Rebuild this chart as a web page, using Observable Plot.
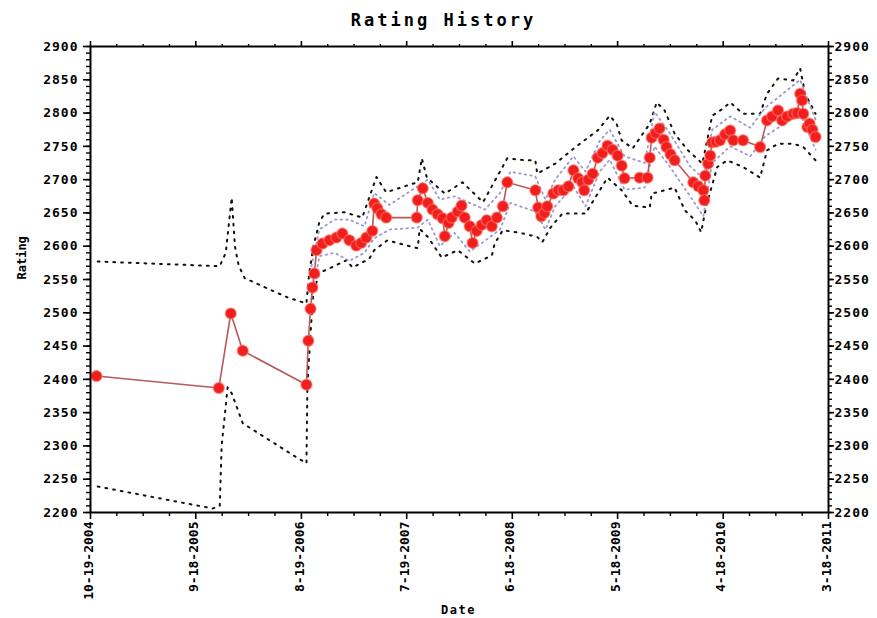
<!DOCTYPE html>
<html>
<head>
<meta charset="utf-8">
<script src="https://cdn.jsdelivr.net/npm/d3@7"></script>
<script src="https://cdn.jsdelivr.net/npm/@observablehq/plot@0.6"></script>
<style>
  html, body { margin: 0; padding: 0; background: #fff; }
</style>
</head>
<body>
<div id="chart"></div>
<script>
// ---------- DATA ----------
const tickLabels = ["10-19-2004", "9-18-2005", "8-19-2006", "7-19-2007", "6-18-2008", "5-18-2009", "4-18-2010", "3-18-2011"];
const yTickValues = [2200, 2250, 2300, 2350, 2400, 2450, 2500, 2550, 2600, 2650, 2700, 2750, 2800, 2850, 2900];

const ratingDates = [
  "2004-11-07","2005-11-30","2006-01-07","2006-02-14","2006-09-04","2006-09-10","2006-09-17","2006-09-23",
  "2006-09-29","2006-10-06","2006-10-25","2006-11-16","2006-12-08","2006-12-27","2007-01-18","2007-02-09",
  "2007-02-25","2007-03-13","2007-04-01","2007-04-07","2007-04-17","2007-04-30","2007-05-15","2007-08-20",
  "2007-08-23","2007-09-08","2007-09-24","2007-10-09","2007-10-25","2007-11-10","2007-11-17","2007-11-29",
  "2007-12-09","2007-12-28","2008-01-09","2008-01-19","2008-02-04","2008-02-13","2008-02-26","2008-03-13",
  "2008-03-29","2008-04-14","2008-04-30","2008-05-19","2008-06-02","2008-08-30","2008-09-08","2008-09-18",
  "2008-09-28","2008-10-07","2008-10-26","2008-11-11","2008-11-27","2008-12-13","2008-12-29","2009-01-13",
  "2009-01-26","2009-02-01","2009-02-14","2009-02-28","2009-03-16","2009-03-31","2009-04-16","2009-05-02",
  "2009-05-18","2009-05-31","2009-06-09","2009-07-27","2009-08-21","2009-08-28","2009-09-03","2009-09-16",
  "2009-09-28","2009-10-11","2009-10-20","2009-11-02","2009-11-15","2010-01-13","2010-01-29","2010-02-14",
  "2010-02-17","2010-02-20","2010-03-01","2010-03-08","2010-03-14","2010-03-27","2010-04-08","2010-04-24",
  "2010-05-10","2010-05-20","2010-06-20","2010-08-13","2010-09-04","2010-09-20","2010-10-09","2010-10-22",
  "2010-11-07","2010-11-26","2010-12-09","2010-12-18","2010-12-24","2010-12-28","2011-01-10","2011-01-17",
  "2011-01-26","2011-02-05"
];
const ratings = [
  2405,2387,2499,2443,2392,2458,2506,2538,
  2559,2594,2604,2609,2613,2619,2609,2601,
  2605,2613,2623,2664,2657,2648,2643,2643,
  2669,2687,2665,2655,2648,2642,2615,2635,
  2643,2652,2661,2643,2630,2605,2623,2632,
  2639,2630,2643,2660,2696,2684,2658,2645,
  2650,2660,2679,2684,2684,2690,2714,2702,
  2696,2684,2700,2709,2733,2740,2751,2745,
  2736,2721,2702,2703,2703,2733,2763,2770,
  2777,2760,2749,2738,2729,2696,2690,2684,
  2669,2706,2724,2736,2756,2757,2759,2768,
  2774,2759,2759,2749,2789,2795,2804,2789,
  2795,2799,2800,2829,2819,2799,2779,2784,
  2775,2764
];

const upperDates = [
  "2004-11-11","2005-12-03","2005-12-22","2006-01-10","2006-01-20","2006-02-01","2006-02-20","2006-07-06",
  "2006-09-04","2006-09-13","2006-09-26","2006-10-15","2006-10-31","2007-01-02","2007-02-28","2007-04-14",
  "2007-05-15","2007-07-19","2007-08-23","2007-09-05","2007-09-21","2007-11-17","2008-01-12","2008-03-17",
  "2008-06-02","2008-07-29","2008-08-30","2008-09-05","2008-11-01","2009-01-10","2009-03-16","2009-04-23",
  "2009-05-15","2009-05-31","2009-07-05","2009-08-28","2009-09-19","2009-10-14","2009-11-15","2009-12-27",
  "2010-02-11","2010-03-14","2010-04-18","2010-05-10","2010-06-20","2010-08-13","2010-09-04","2010-10-09",
  "2010-11-26","2010-12-18","2011-01-03","2011-02-05"
];
const upperValues = [
  2577,2570,2590,2673,2600,2571,2552,2523,
  2514,2560,2600,2636,2649,2651,2643,2704,
  2681,2691,2696,2732,2703,2679,2696,2666,
  2732,2729,2729,2709,2724,2751,2774,2796,
  2784,2759,2747,2784,2816,2804,2769,2744,
  2724,2796,2807,2816,2799,2799,2829,2852,
  2849,2867,2829,2799
];

const lowerDates = [
  "2004-11-11","2005-11-11","2005-12-03","2005-12-09","2005-12-28","2006-01-10","2006-02-14","2006-08-03",
  "2006-09-04","2006-09-07","2006-09-17","2006-09-26","2006-10-15","2006-11-22","2007-01-09","2007-01-28",
  "2007-03-22","2007-04-07","2007-05-19","2007-07-19","2007-08-23","2007-08-29","2007-09-24","2007-11-07",
  "2007-12-28","2008-02-20","2008-04-14","2008-04-23","2008-05-19","2008-07-13","2008-09-05","2008-09-21",
  "2008-10-17","2008-11-24","2009-02-05","2009-04-16","2009-05-31","2009-07-05","2009-08-28","2009-09-03",
  "2009-11-15","2009-12-17","2010-01-19","2010-02-07","2010-02-23","2010-03-30","2010-05-01","2010-06-20",
  "2010-08-13","2010-09-04","2010-10-09","2010-11-26","2010-12-28","2011-02-05","2011-02-21"
];
const lowerValues = [
  2239,2206,2210,2300,2388,2379,2334,2283,
  2274,2390,2470,2530,2560,2568,2579,2568,
  2581,2594,2609,2601,2597,2626,2614,2583,
  2594,2574,2586,2604,2624,2620,2614,2606,
  2628,2649,2649,2703,2684,2661,2658,2679,
  2688,2654,2639,2621,2660,2719,2729,2719,
  2703,2744,2754,2754,2749,2729,2725
];

const bandDates = [
  "2006-09-20","2006-10-15","2006-12-02","2007-01-18","2007-03-07","2007-04-07","2007-05-25","2007-08-23",
  "2007-09-24","2007-11-01","2007-12-18","2008-02-04","2008-03-23","2008-05-10","2008-06-12","2008-08-30",
  "2008-10-01","2008-11-01","2008-12-29","2009-02-05","2009-03-22","2009-04-23","2009-06-09","2009-08-12",
  "2009-09-12","2009-10-30","2010-01-03","2010-02-14","2010-03-14","2010-05-10","2010-07-13","2010-08-29",
  "2010-10-16","2010-12-18","2011-02-05"
];
const bandHigh = [
  2570,2625,2640,2640,2630,2680,2662,2690,
  2700,2670,2675,2665,2655,2680,2712,2705,
  2670,2700,2735,2712,2758,2775,2735,2725,
  2802,2770,2720,2702,2775,2795,2778,2808,
  2826,2850,2790
];
const bandLow = [
  2520,2585,2590,2578,2590,2612,2625,2628,
  2640,2600,2620,2592,2608,2625,2665,2652,
  2625,2660,2690,2660,2712,2730,2685,2688,
  2750,2720,2675,2645,2725,2750,2735,2765,
  2780,2800,2745
];

// ---------- TABLES ----------
const rows = ratingDates.map((d, i) => ({date: new Date(d), value: ratings[i]}));
const upperRows = upperDates.map((d, i) => ({date: new Date(d), value: upperValues[i]}));
const lowerRows = lowerDates.map((d, i) => ({date: new Date(d), value: lowerValues[i]}));
const bandHiRows = bandDates.map((d, i) => ({date: new Date(d), value: bandHigh[i]}));
const bandLoRows = bandDates.map((d, i) => ({date: new Date(d), value: bandLow[i]}));

const parseLabel = s => { const [m, d, y] = s.split("-").map(Number); return new Date(Date.UTC(y, m - 1, d)); };
const majorDates = tickLabels.map(parseLabel);
const minorDates = [];
for (let i = 0; i < majorDates.length - 1; i++) {
  const a = +majorDates[i], b = +majorDates[i + 1];
  for (let k = 1; k < 4; k++) minorDates.push(new Date(a + (b - a) * k / 4));
}
const yMinor = d3.range(2200, 2901, 10);

const font = "DejaVu Sans Mono";
const blank = () => "";

const chart = Plot.plot({
  width: 877,
  height: 618,
  marginLeft: 90,
  marginRight: 49,
  marginTop: 46,
  marginBottom: 106,
  style: {fontFamily: font, fontSize: "13px", background: "#fff", color: "#000", overflow: "visible"},
  x: {type: "utc", domain: [majorDates[0], majorDates[majorDates.length - 1]], axis: null},
  y: {domain: [2200, 2900], axis: null},
  marks: [
    // confidence bands
    Plot.line(upperRows, {x: "date", y: "value", stroke: "#111", strokeWidth: 2, strokeDasharray: "1.8 6"}),
    Plot.line(lowerRows, {x: "date", y: "value", stroke: "#111", strokeWidth: 2, strokeDasharray: "1.8 6"}),
    Plot.line(bandHiRows, {x: "date", y: "value", stroke: "#9a9ad0", strokeWidth: 1.8, strokeDasharray: "1.6 4"}),
    Plot.line(bandLoRows, {x: "date", y: "value", stroke: "#9a9ad0", strokeWidth: 1.8, strokeDasharray: "1.6 4"}),
    // rating line and dots
    Plot.line(rows, {x: "date", y: "value", stroke: "#b85858", strokeWidth: 1.6}),
    Plot.dot(rows, {x: "date", y: "value", r: 5.5, fill: "#f01e1e", stroke: "#ff7a6a", strokeWidth: 1.5, strokeOpacity: 0.55}),
    // frame
    Plot.frame({stroke: "#000", strokeWidth: 2}),
    // left axis
    Plot.axisY(yMinor, {anchor: "left", tickSize: 4, tickFormat: blank, strokeWidth: 1.4, label: null}),
    Plot.axisY(yTickValues, {anchor: "left", tickSize: 7, tickPadding: 5, tickFormat: d => String(d), strokeWidth: 1.6, label: null, fontSize: 13, fontWeight: "bold"}),
    // right axis
    Plot.axisY(yMinor, {anchor: "right", tickSize: 3, tickFormat: blank, strokeWidth: 1.4, label: null}),
    Plot.axisY(yTickValues, {anchor: "right", tickSize: 5, tickPadding: 1, tickFormat: d => String(d), strokeWidth: 1.6, label: null, fontSize: 13, fontWeight: "bold"}),
    // top axis
    Plot.axisX(minorDates, {anchor: "top", tickSize: 3, tickFormat: blank, strokeWidth: 1.4, label: null}),
    Plot.axisX(majorDates, {anchor: "top", tickSize: 6, tickFormat: blank, strokeWidth: 1.6, label: null}),
    // bottom axis
    Plot.axisX(minorDates, {anchor: "bottom", tickSize: 4, tickFormat: blank, strokeWidth: 1.4, label: null}),
    Plot.axisX(majorDates, {anchor: "bottom", tickSize: 7, tickFormat: blank, strokeWidth: 1.6, label: null}),
    Plot.text(majorDates, {x: d => d, text: (d, i) => tickLabels[i], frameAnchor: "bottom", lineAnchor: "middle", rotate: -90, textAnchor: "end", dx: -2, dy: 9, fontSize: 13, fontWeight: "bold"}),
    // titles
    Plot.text(["Rating History"], {text: d => d, frameAnchor: "top", lineAnchor: "middle", dx: -16, dy: -26, fontSize: 17, fontWeight: "bold"}),
    Plot.text(["Rating"], {text: d => d, frameAnchor: "left", lineAnchor: "middle", dx: -68, rotate: -90, fontSize: 12, fontWeight: "bold"}),
    Plot.text(["Date"], {text: d => d, frameAnchor: "bottom", lineAnchor: "middle", dx: -1, dy: 98, fontSize: 12, fontWeight: "bold"})
  ]
});

// letter spacing tweaks for the wide bitmap-like font
d3.select(chart).selectAll("text").each(function () {
  const t = this.textContent;
  if (t === "Rating History") this.setAttribute("letter-spacing", "3px");
  else if (t === "Date") this.setAttribute("letter-spacing", "1.5px");
  else if (/^\d{4}$/.test(t)) this.setAttribute("letter-spacing", "1px");
});
document.getElementById("chart").appendChild(chart);
</script>
</body>
</html>
